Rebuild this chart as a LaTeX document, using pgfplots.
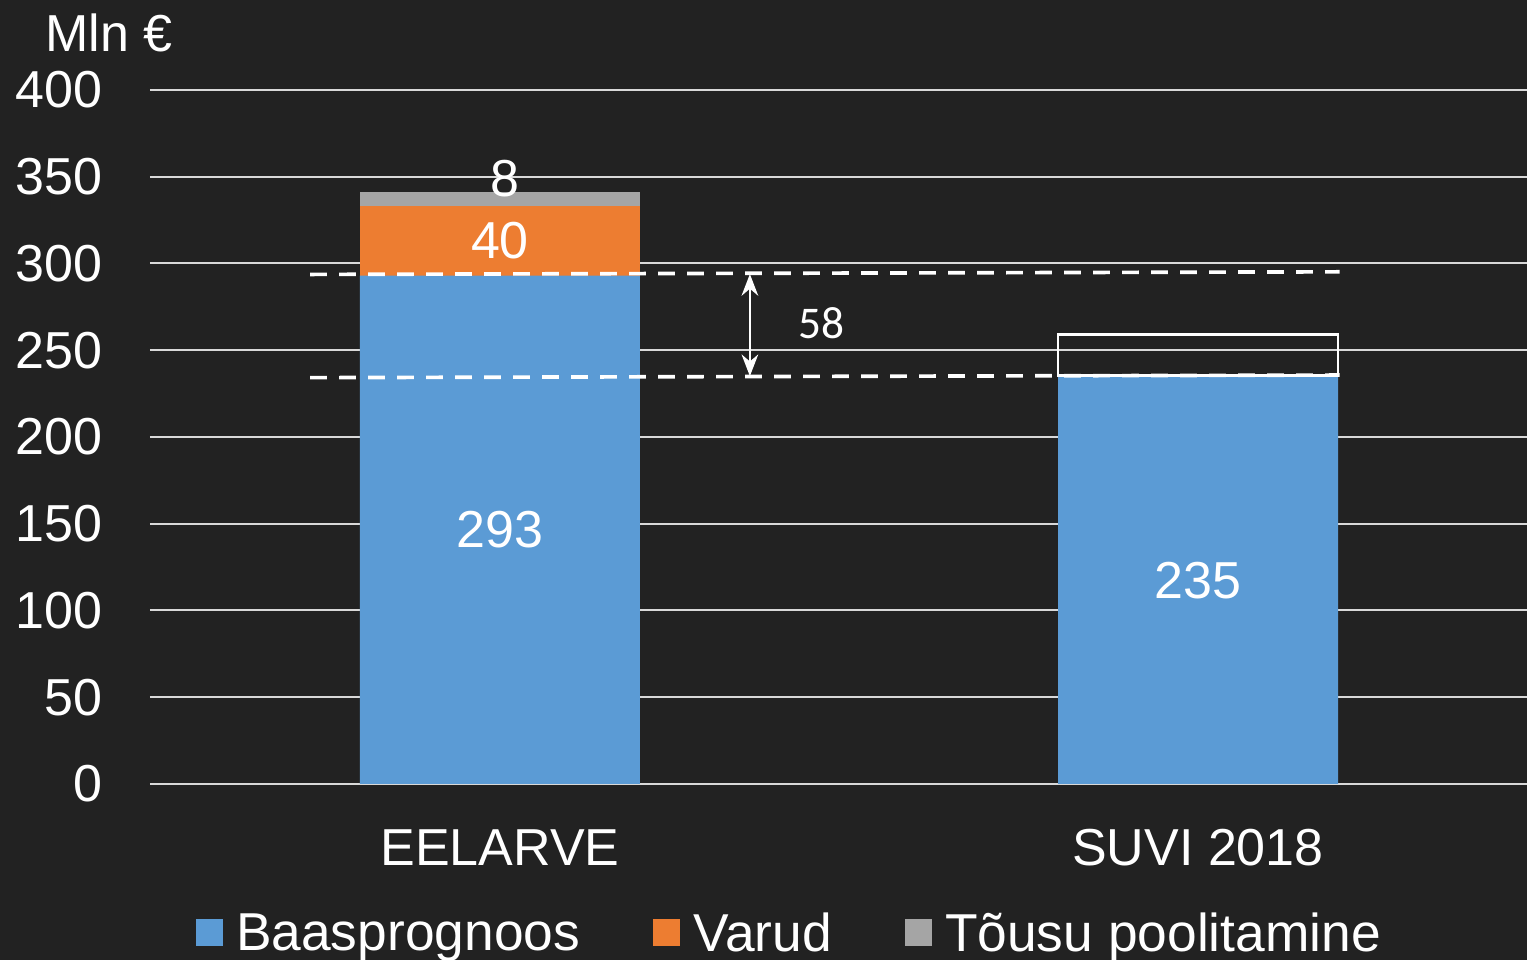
\documentclass[border=0pt]{standalone}
\usepackage{pgfplots}
\pgfplotsset{compat=1.18}
\usetikzlibrary{arrows.meta}
\usepackage{fontspec}
\setmainfont{Liberation Sans}
\newfontfamily\calibri{Carlito}
\definecolor{bg}{HTML}{222222}
\definecolor{cblue}{HTML}{5B9BD5}
\definecolor{corange}{HTML}{ED7D31}
\definecolor{cgray}{HTML}{A5A5A5}
\definecolor{gridc}{HTML}{D9D9D9}
\begin{document}
\begin{tikzpicture}
\fill[bg, use as bounding box] (0,0) rectangle (458.1pt,-288pt);
\node[anchor=base west, inner sep=0pt, text=white, font=\fontsize{15.6}{18}\selectfont] at (13.5pt,-15.6pt) {Mln €};
\begin{axis}[
  at={(45pt,-235.2pt)}, anchor=south west,
  scale only axis, width=413.1pt, height=208.2pt,
  xmin=-0.5014, xmax=1.4713, ymin=0, ymax=400,
  ybar stacked, bar width=84pt,
  axis line style={draw=none},
  major tick length=0pt,
  ytick={0,50,...,400},
  /pgf/number format/assume math mode=true,
  ymajorgrids, grid style={gridc, line width=0.6pt},
  xtick={0,1}, xticklabels={EELARVE, SUVI 2018},
  ticklabel style={text=white, inner sep=0pt},
  yticklabel style={font=\fontsize{15.6}{18}\selectfont, anchor=east, xshift=-14.1pt},
  xticklabel style={font=\fontsize{15.6}{18}\selectfont, anchor=base, yshift=-24.6pt},
  legend style={at={(0.4637,-0.2165)}, anchor=center, draw=none, fill=none,
    text=white, font=\fontsize{16}{19}\selectfont, legend columns=3,
    nodes={inner sep=0pt},
    /tikz/every odd column/.append style={column sep=3.9pt},
    /tikz/every even column/.append style={column sep=22pt}},
  legend image code/.code={\fill[#1] (0pt,-3.4pt) rectangle (8.1pt,4.7pt);},
]
\addplot[fill=cblue, draw=none] coordinates {(0,293) (1,235)};
\addplot[fill=corange, draw=none] coordinates {(0,40) (1,0)};
\addplot[fill=cgray, draw=none] coordinates {(0,8) (1,0)};
\legend{Baasprognoos, Varud, Tõusu poolitamine}
\coordinate (d1a) at (axis cs:-0.272,293.7);
\coordinate (d1b) at (axis cs:1.203,295.2);
\coordinate (d2a) at (axis cs:-0.272,234.2);
\coordinate (d2b) at (axis cs:1.203,235.7);
\coordinate (r1) at (axis cs:0.7994,235.5);
\coordinate (r2) at (axis cs:1.2006,259);
\coordinate (a1) at (axis cs:0.358,293.9);
\coordinate (a2) at (axis cs:0.358,235.1);
\coordinate (t58) at (axis cs:0.46,265.7);
\coordinate (t293) at (axis cs:0,146.5);
\coordinate (t40) at (axis cs:0,313);
\coordinate (t8) at (axis cs:0.007,349);
\coordinate (t235) at (axis cs:1,117.5);
\end{axis}
\draw[white, line width=1.1pt, dash pattern=on 5pt off 3.7pt] (d1a) -- (d1b);
\draw[white, line width=1.1pt, dash pattern=on 5pt off 3.7pt] (d2a) -- (d2b);
\draw[white, line width=0.7pt] (r1) rectangle (r2);
\draw[white, line width=0.6pt, {Stealth[length=6.5pt,width=5pt]}-{Stealth[length=6.5pt,width=5pt]}] (a1) -- (a2);
\node[text=white, font=\calibri\fontsize{13.6}{16}\selectfont, inner sep=0pt] at (t58) {58};
\node[text=white, font=\fontsize{15.6}{18}\selectfont, inner sep=0pt] at (t293) {293};
\node[text=white, font=\fontsize{15.6}{18}\selectfont, inner sep=0pt] at (t40) {40};
\node[text=white, font=\fontsize{15.6}{18}\selectfont, inner sep=0pt] at (t8) {8};
\node[text=white, font=\fontsize{15.6}{18}\selectfont, inner sep=0pt] at (t235) {235};
\end{tikzpicture}
\end{document}
